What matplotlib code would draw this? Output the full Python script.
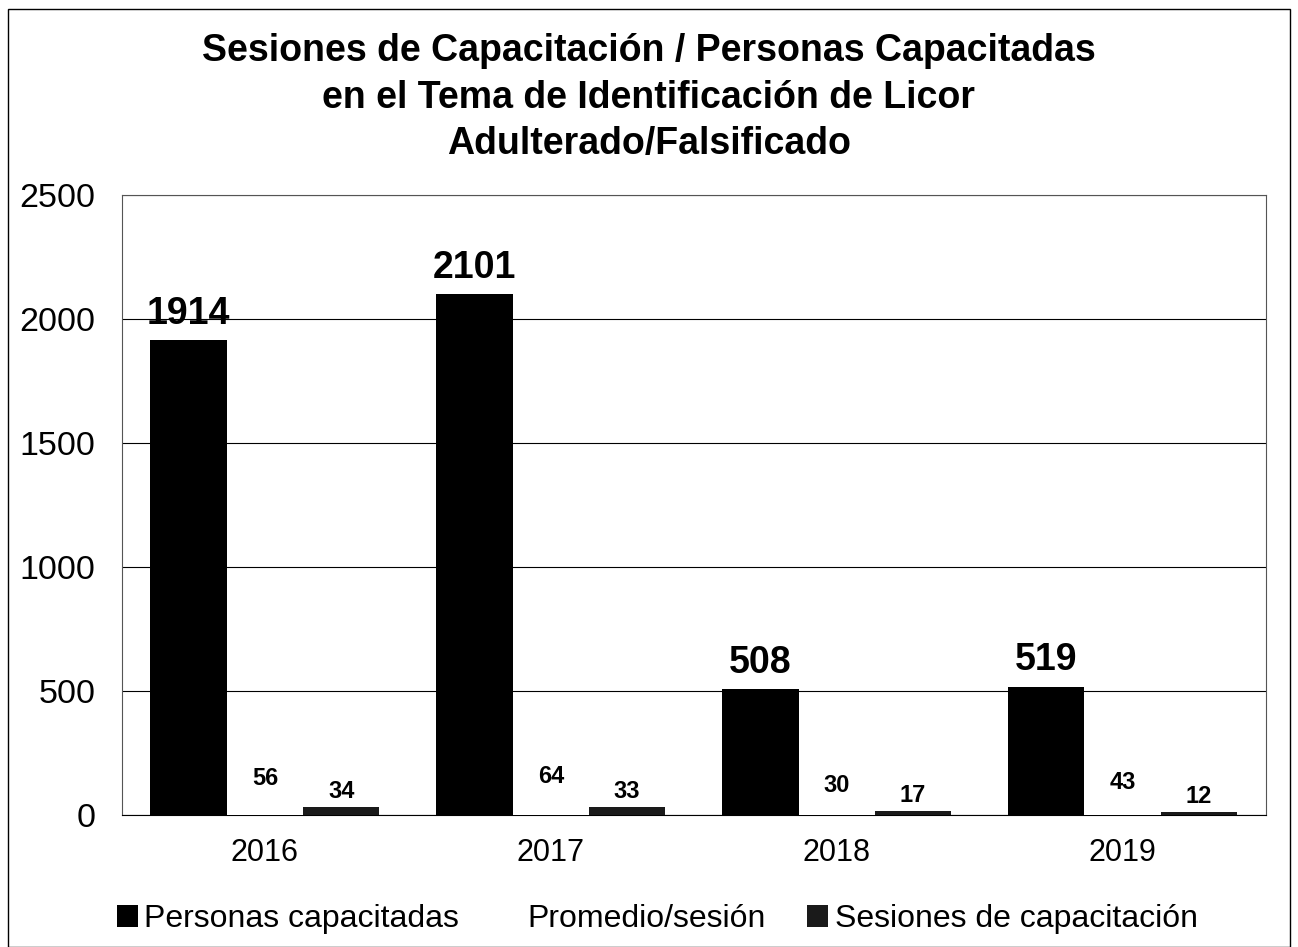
import numpy as np
import matplotlib.pyplot as plt
from matplotlib.patches import Rectangle

plt.rcParams['font.family'] = ['Liberation Sans', 'DejaVu Sans']

# Datos
anios = ['2016', '2017', '2018', '2019']
personas = [1914, 2101, 508, 519]
promedio = [56, 64, 30, 43]
sesiones = [34, 33, 17, 12]

fig = plt.figure(figsize=(12.98, 9.47), dpi=100)
ax = fig.add_axes([0.094, 0.139, 0.881, 0.655])

x = np.arange(len(anios))
w = 0.267

b1 = ax.bar(x - w, personas, w, color='black', label='Personas capacitadas', zorder=3)
b2 = ax.bar(x, promedio, w, color='white', label='Promedio/sesión', zorder=3)
b3 = ax.bar(x + w, sesiones, w, color='#1a1a1a', label='Sesiones de capacitación', zorder=3)

ax.bar_label(b1, fontsize=27, fontweight='bold', padding=6)
ax.bar_label(b2, fontsize=17, fontweight='bold', padding=8)
ax.bar_label(b3, fontsize=17, fontweight='bold', padding=3)

ax.set_ylim(0, 2500)
ax.set_yticks(range(0, 2501, 500))
ax.set_xlim(-0.5, 3.5)
ax.set_xticks(x)
ax.set_xticklabels(anios)
ax.tick_params(axis='y', labelsize=24.5, length=0, pad=19)
ax.tick_params(axis='x', labelsize=22, length=0, pad=16)
ax.grid(axis='y', color='black', linewidth=0.8, zorder=0)
for s in ax.spines.values():
    s.set_color('#555555')
    s.set_linewidth(0.8)
ax.spines['bottom'].set_color('black')

fig.text(0.5, 0.965, 'Sesiones de Capacitación / Personas Capacitadas\n'
         'en el Tema de Identificación de Licor\nAdulterado/Falsificado',
         fontsize=27, fontweight='bold', ha='center', va='top', linespacing=1.38)

ax.legend(loc='upper center', bbox_to_anchor=(0.468, -0.097), ncol=3, frameon=False,
          fontsize=23, handlelength=0.65, handleheight=0.65, handletextpad=0.2,
          columnspacing=1.3)

fig.patches.append(Rectangle((0.006, 0.0), 0.988, 0.99, transform=fig.transFigure,
                             fill=False, edgecolor='black', linewidth=1))

fig.savefig('out.png')
